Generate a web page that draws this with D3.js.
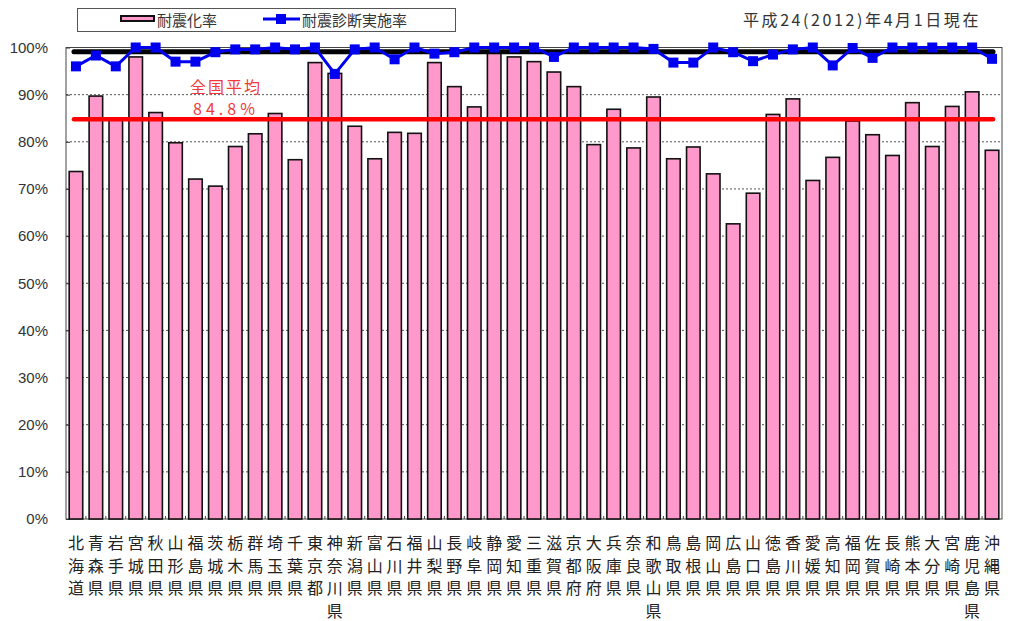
<!DOCTYPE html>
<html>
<head>
<meta charset="utf-8">
<script src="https://cdn.jsdelivr.net/npm/d3@7"></script>
<style>
  html, body { margin: 0; padding: 0; background: #fff; }
  svg { display: block; }
</style>
</head>
<body>
<svg id="chart" width="1011" height="621"></svg>
<script>
// Prefectures (vertical labels, one character per line)
const prefectures = [
  "北海道","青森県","岩手県","宮城県","秋田県","山形県","福島県","茨城県","栃木県","群馬県",
  "埼玉県","千葉県","東京都","神奈川県","新潟県","富山県","石川県","福井県","山梨県","長野県",
  "岐阜県","静岡県","愛知県","三重県","滋賀県","京都府","大阪府","兵庫県","奈良県","和歌山県",
  "鳥取県","島根県","岡山県","広島県","山口県","徳島県","香川県","愛媛県","高知県","福岡県",
  "佐賀県","長崎県","熊本県","大分県","宮崎県","鹿児島県","沖縄県"
];

// 耐震化率 (%)
const seismicRate = [
  73.7, 89.7, 85.0, 98.0, 86.2, 79.8, 72.1, 70.6, 79.0, 81.7,
  86.0, 76.2, 96.8, 94.5, 83.3, 76.4, 82.0, 81.8, 96.8, 91.7,
  87.4, 99.3, 98.0, 97.0, 94.8, 91.7, 79.4, 86.9, 78.7, 89.5,
  76.4, 78.9, 73.2, 62.6, 69.1, 85.8, 89.1, 71.8, 76.7, 84.4,
  81.5, 77.1, 88.3, 79.0, 87.5, 90.6, 78.2
];

// 耐震診断実施率 (%)
const diagnosisRate = [
  96.0, 98.3, 96.0, 100, 100, 97.0, 97.0, 99.0, 99.6, 99.6,
  100, 99.6, 100, 94.4, 99.6, 100, 97.5, 100, 98.7, 99.0,
  100, 100, 100, 100, 98.0, 100, 100, 100, 100, 99.7,
  96.8, 96.8, 100, 99.0, 97.1, 98.5, 99.6, 100, 96.2, 99.9,
  97.8, 100, 100, 100, 100, 100, 97.6
];

// National averages (%)
const seismicAverage = [84.8];
const diagnosisAverage = [99.1];

const yTicks = [0, 10, 20, 30, 40, 50, 60, 70, 80, 90, 100];

const legendItems = ["耐震化率", "耐震診断実施率"];
const dateNote = "平成24(2012)年4月1日現在";
const averageLabel = ["全国平均", "84.8%"];

const svg = d3.select("#chart");
const plot = { left: 66, right: 1002, top: 47.5, bottom: 519 };

const x = d3.scaleBand()
  .domain(prefectures)
  .range([plot.left, plot.right])
  .paddingInner(0.32)
  .paddingOuter(0.16);

const y = d3.scaleLinear().domain([0, 100]).range([plot.bottom, plot.top]);
const cx = d => x(d) + x.bandwidth() / 2;

const PINK = "#ff99cc";
const BLUE = "#0000f0";
const JP = "'Noto Sans CJK JP', 'Noto Sans', sans-serif";

// Dotted gridlines
svg.append("g")
  .selectAll("line")
  .data(yTicks.filter(t => t > 0 && t < 100))
  .join("line")
  .attr("x1", plot.left).attr("x2", plot.right)
  .attr("y1", d => y(d)).attr("y2", d => y(d))
  .attr("stroke", "#555").attr("stroke-width", 1)
  .attr("stroke-dasharray", "2,2");

// Y axis with inward ticks
const yAxis = d3.axisLeft(y).tickValues(yTicks).tickFormat(d => d + "%").tickSize(-4).tickPadding(18);
const yg = svg.append("g").attr("transform", `translate(${plot.left},0)`).call(yAxis);
yg.select(".domain").remove();
yg.selectAll(".tick line").attr("stroke", "#333");
yg.selectAll("text")
  .attr("font-family", "'Liberation Sans', Arial, sans-serif")
  .attr("font-size", 15).attr("fill", "#333");

// Plot frame
svg.append("rect")
  .attr("x", plot.left).attr("y", plot.top)
  .attr("width", plot.right - plot.left).attr("height", plot.bottom - plot.top)
  .attr("fill", "none").attr("stroke", "#444").attr("stroke-width", 1);

// Category separator ticks on the baseline
const step = x.step();
svg.append("g")
  .selectAll("line")
  .data(d3.range(1, prefectures.length))
  .join("line")
  .attr("x1", i => plot.left + i * step).attr("x2", i => plot.left + i * step)
  .attr("y1", plot.bottom).attr("y2", plot.bottom - 3)
  .attr("stroke", "#444");

// Bars
svg.append("g")
  .selectAll("rect")
  .data(prefectures)
  .join("rect")
  .attr("x", d => x(d))
  .attr("y", (d, i) => y(seismicRate[i]))
  .attr("width", x.bandwidth())
  .attr("height", (d, i) => y(0) - y(seismicRate[i]))
  .attr("fill", PINK)
  .attr("stroke", "#111").attr("stroke-width", 1.6);

const first = prefectures[0], last = prefectures[prefectures.length - 1];

// Average lines
svg.append("line")
  .attr("x1", cx(first) - 2).attr("x2", cx(last) + 1)
  .attr("y1", y(seismicAverage[0])).attr("y2", y(seismicAverage[0]))
  .attr("stroke", "#ff0000").attr("stroke-width", 4.5).attr("stroke-linecap", "round");

svg.append("line")
  .attr("x1", cx(first) - 2).attr("x2", cx(last) + 1)
  .attr("y1", y(diagnosisAverage[0])).attr("y2", y(diagnosisAverage[0]))
  .attr("stroke", "#000").attr("stroke-width", 5).attr("stroke-linecap", "round");

// Diagnosis rate line with square markers
const line = d3.line().x(d => cx(d.p)).y(d => y(d.v));
const diagPts = prefectures.map((p, i) => ({ p, v: diagnosisRate[i] }));
svg.append("path")
  .datum(diagPts)
  .attr("d", line)
  .attr("fill", "none").attr("stroke", BLUE).attr("stroke-width", 3);
svg.append("g")
  .selectAll("rect")
  .data(diagPts)
  .join("rect")
  .attr("x", d => cx(d.p) - 5).attr("y", d => y(d.v) - 5)
  .attr("width", 10).attr("height", 10)
  .attr("fill", BLUE);

// National average label
svg.append("g")
  .selectAll("text")
  .data(averageLabel)
  .join("text")
  .attr("x", 226).attr("y", (d, i) => 93 + i * 22)
  .attr("text-anchor", "middle")
  .attr("font-family", JP).attr("font-size", 16)
  .attr("letter-spacing", (d, i) => i === 0 ? 2 : 4)
  .attr("fill", "#f03a3a")
  .text(d => d);

// Category labels, stacked vertically
const xl = svg.append("g");
prefectures.forEach(p => {
  Array.from(p).forEach((ch, k) => {
    xl.append("text")
      .attr("x", cx(p)).attr("y", 549 + k * 22.5)
      .attr("text-anchor", "middle")
      .attr("font-family", JP).attr("font-size", 16)
      .attr("fill", "#222")
      .text(ch);
  });
});

// Legend
const lg = svg.append("g");
lg.append("rect")
  .attr("x", 77.5).attr("y", 8.5).attr("width", 378).attr("height", 23)
  .attr("fill", "#fff").attr("stroke", "#555").attr("stroke-width", 1);
lg.append("rect")
  .attr("x", 121).attr("y", 16).attr("width", 33).attr("height", 5)
  .attr("fill", PINK).attr("stroke", "#111").attr("stroke-width", 2);
lg.append("text")
  .attr("x", 157).attr("y", 25.5)
  .attr("font-family", JP).attr("font-size", 15).attr("fill", "#333")
  .text(legendItems[0]);
lg.append("line")
  .attr("x1", 263).attr("x2", 300).attr("y1", 19).attr("y2", 19)
  .attr("stroke", BLUE).attr("stroke-width", 3);
lg.append("rect")
  .attr("x", 276).attr("y", 14).attr("width", 10).attr("height", 10)
  .attr("fill", BLUE);
lg.append("text")
  .attr("x", 302).attr("y", 25.5)
  .attr("font-family", JP).attr("font-size", 15).attr("fill", "#333")
  .text(legendItems[1]);

// Date note
svg.append("text")
  .attr("x", 981).attr("y", 26)
  .attr("text-anchor", "end")
  .attr("font-family", JP).attr("font-size", 16).attr("fill", "#333")
  .attr("letter-spacing", 2.6)
  .text(dateNote);
</script>
</body>
</html>
